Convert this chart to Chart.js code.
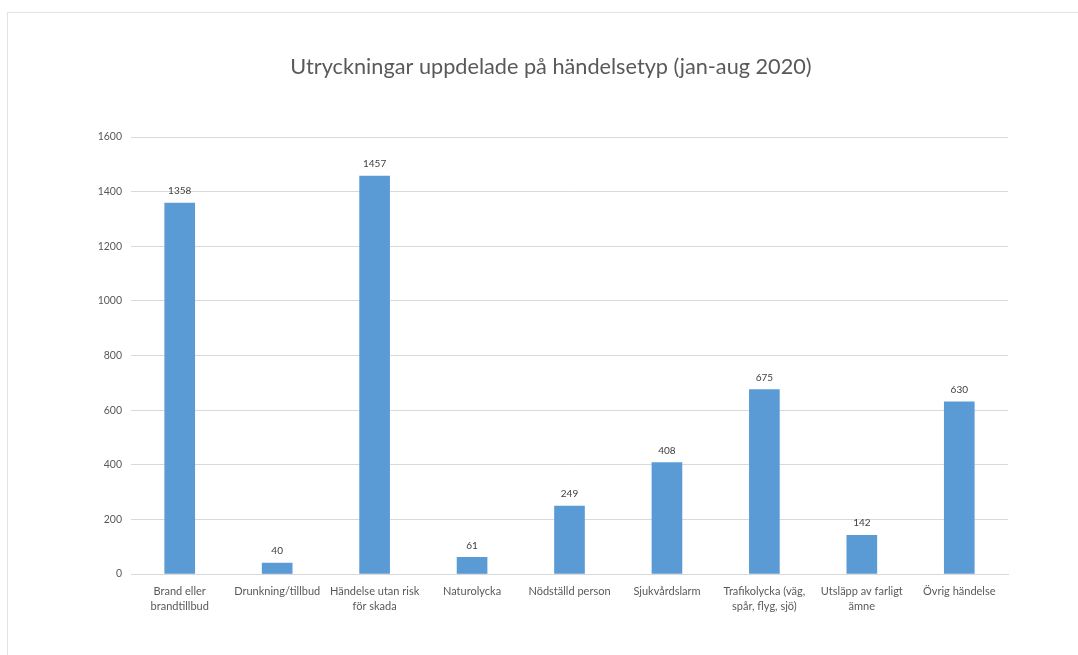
<!DOCTYPE html>
<html>
<head>
<meta charset="utf-8">
<script src="https://cdn.jsdelivr.net/npm/chart.js@4"></script>
<style>
  html, body { margin: 0; padding: 0; background: #fff; }
  #wrap { position: relative; width: 1078px; height: 655px; overflow: hidden; }
  #frame { position: absolute; left: 7px; top: 12px; width: 1100px; height: 700px; border: 1px solid #e3e3e3; box-sizing: border-box; }
  canvas { position: absolute; left: 0; top: 0; }
</style>
</head>
<body>
<div id="wrap">
  <div id="frame"></div>
  <canvas id="chart" width="1078" height="655"></canvas>
</div>
<script>
const categories = [
  ["Brand eller", "brandtillbud"],
  "Drunkning/tillbud",
  ["Händelse utan risk", "för skada"],
  "Naturolycka",
  "Nödställd person",
  "Sjukvårdslarm",
  ["Trafikolycka (väg,", "spår, flyg, sjö)"],
  ["Utsläpp av farligt", "ämne"],
  "Övrig händelse"
]
const values = [1358, 40, 1457, 61, 249, 408, 675, 142, 630]
const yTicks = [0, 200, 400, 600, 800, 1000, 1200, 1400, 1600]

const textColor = '#595959'
const fontFamily = 'Lato, "Open Sans", sans-serif'

// draw value above each bar
const valueLabels = {
  id: 'valueLabels',
  afterDatasetsDraw(chart) {
    const ctx = chart.ctx
    const meta = chart.getDatasetMeta(0)
    ctx.save()
    ctx.font = '10px ' + fontFamily
    ctx.fillStyle = '#404040'
    ctx.textAlign = 'center'
    ctx.textBaseline = 'middle'
    meta.data.forEach((bar, i) => {
      ctx.fillText(values[i], bar.x, bar.y - 12)
    })
    ctx.restore()
  }
}

new Chart(document.getElementById('chart'), {
  type: 'bar',
  data: {
    labels: categories,
    datasets: [{
      data: values,
      backgroundColor: '#5B9BD5',
      barThickness: 30,
      categoryPercentage: 1
    }]
  },
  options: {
    responsive: false,
    animation: false,
    layout: { padding: { left: 24, right: 0, top: 0, bottom: 0 } },
    plugins: {
      legend: { display: false },
      tooltip: { enabled: false },
      title: {
        display: true,
        text: 'Utryckningar uppdelade på händelsetyp (jan-aug 2020)',
        color: textColor,
        font: { family: fontFamily, size: 21.7, weight: 'normal' },
        padding: { top: 54, bottom: 57 }
      }
    },
    scales: {
      x: {
        grid: { display: false, drawTicks: false },
        border: { color: '#d9d9d9' },
        ticks: { color: textColor, font: { family: fontFamily, size: 11, lineHeight: 1.35 }, padding: 10, maxRotation: 0, autoSkip: false },
        afterFit(scale) { scale.height = 81 }
      },
      y: {
        min: 0,
        max: 1600,
        afterBuildTicks(scale) { scale.ticks = yTicks.map(v => ({ value: v })) },
        grid: { color: '#d9d9d9', drawTicks: false },
        border: { display: false },
        ticks: { color: textColor, font: { family: fontFamily, size: 10.5 }, padding: 9, callback: v => String(v) },
        afterFit(scale) { scale.width = 107 }
      },
      // empty right-side spacer so the title sits where it does in the original
      spacer: {
        type: 'linear',
        position: 'right',
        grid: { display: false, drawTicks: false },
        border: { display: false },
        ticks: { display: false },
        afterFit(scale) { scale.width = 70 }
      }
    }
  },
  plugins: [valueLabels]
})
</script>
</body>
</html>
